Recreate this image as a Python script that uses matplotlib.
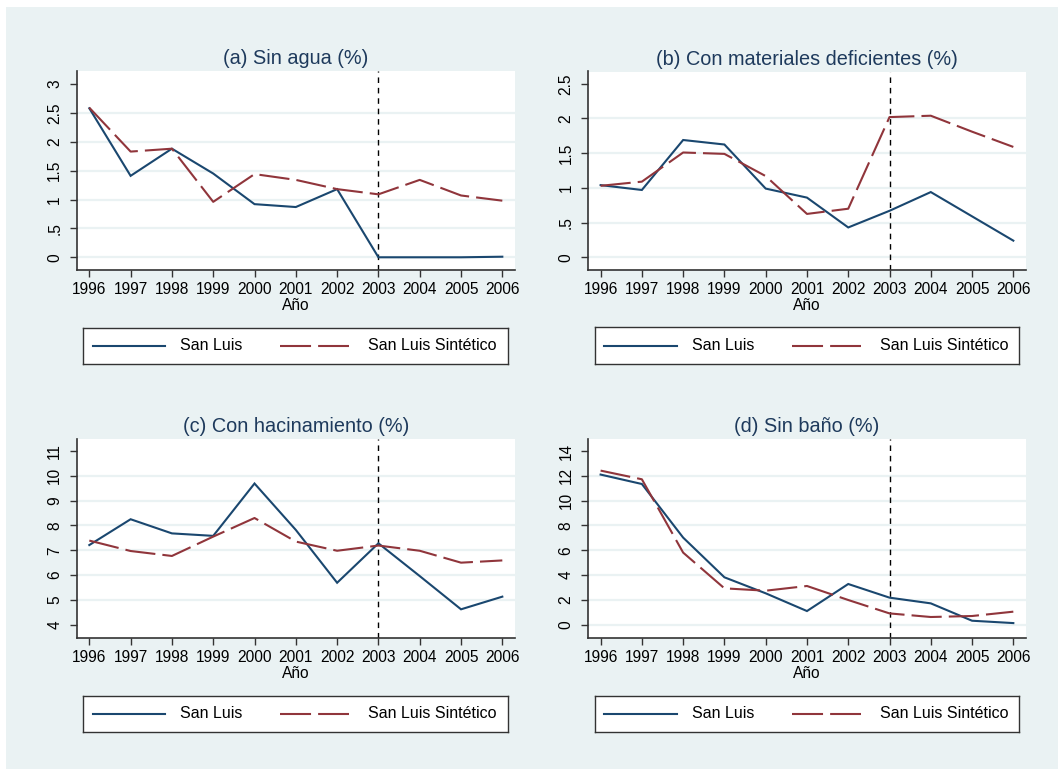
import matplotlib
matplotlib.use("Agg")
import matplotlib.pyplot as plt
import numpy as np

plt.rcParams["font.family"] = ["Liberation Sans", "DejaVu Sans"]

W, H = 1058, 769
BG = "#EAF2F3"
NAVY = "#1A476F"
MAROON = "#90353B"
TITLE_C = "#1E3A5C"

years = list(range(1996, 2007))
ticklabels = [str(y) for y in years]
treat_year = 2003

titles = ["(a) Sin agua (%)", "(b) Con materiales deficientes (%)",
          "(c) Con hacinamiento (%)", "(d) Sin baño (%)"]

sin_agua_sl = [2.58, 1.41, 1.88, 1.45, 0.92, 0.87, 1.18, 0.0, 0.0, 0.0, 0.01]
sin_agua_sint = [2.59, 1.83, 1.88, 0.96, 1.44, 1.34, 1.18, 1.09, 1.34, 1.07, 0.98]

materiales_sl = [1.04, 0.97, 1.69, 1.625, 0.99, 0.86, 0.43, 0.67, 0.94, 0.59, 0.24]
materiales_sint = [1.03, 1.09, 1.51, 1.49, 1.17, 0.625, 0.70, 2.02, 2.04, 1.81, 1.59]

hacinamiento_sl = [7.21, 8.25, 7.68, 7.58, 9.69, 7.82, 5.69, 7.28, 5.96, 4.62, 5.13]
hacinamiento_sint = [7.39, 6.97, 6.77, 7.55, 8.30, 7.35, 6.98, 7.19, 6.98, 6.50, 6.59]

sin_bano_sl = [12.1, 11.34, 7.02, 3.82, 2.53, 1.10, 3.28, 2.18, 1.72, 0.32, 0.13]
sin_bano_sint = [12.42, 11.72, 5.81, 2.93, 2.74, 3.12, 1.99, 0.91, 0.62, 0.70, 1.05]

series_sl = [sin_agua_sl, materiales_sl, hacinamiento_sl, sin_bano_sl]
series_sint = [sin_agua_sint, materiales_sint, hacinamiento_sint, sin_bano_sint]

yticks = [[0, 0.5, 1, 1.5, 2, 2.5, 3],
          [0, 0.5, 1, 1.5, 2, 2.5],
          [4, 5, 6, 7, 8, 9, 10, 11],
          [0, 2, 4, 6, 8, 10, 12, 14]]
ytick_labels = [["0", ".5", "1", "1.5", "2", "2.5", "3"],
                ["0", ".5", "1", "1.5", "2", "2.5"],
                [str(v) for v in range(4, 12)],
                [str(v) for v in range(0, 16, 2)]]
grid_vals = [[0, 0.5, 1, 1.5, 2, 2.5],
             [0, 0.5, 1, 1.5, 2],
             [5, 6, 7, 8, 9, 10],
             [0, 2, 4, 6, 8, 10, 12]]
ylims = [(-0.22, 3.225), (-0.183, 2.677), (3.476, 11.484), (-1.048, 14.967)]
xlim = (1995.702, 2006.307)

# plot regions in pixels: left, top, right, bottom
regions = [(77, 71, 515, 270), (588.3, 71.5, 1026, 270),
           (77, 439, 515, 637.7), (588.3, 439, 1026, 637.7)]
legend_boxes = [(83.3, 327.7, 507.7, 364.3), (594.7, 327, 1019.3, 364.3),
                (83.3, 695.5, 507.7, 732.3), (594.7, 695.5, 1019.3, 732.3)]


def fig_rect(l, t, r, b):
    return [l / W, 1 - b / H, (r - l) / W, (b - t) / H]


fig = plt.figure(figsize=(W / 100, H / 100), dpi=100)
fig.patch.set_facecolor("white")
bg = fig.add_axes(fig_rect(6, 7, W, H))
bg.set_facecolor(BG)
bg.set_xticks([])
bg.set_yticks([])
for s in bg.spines.values():
    s.set_visible(False)
bg.set_zorder(-10)

LW = 1.5
dash_style = (0, (14.5, 3.4))

for k in range(4):
    ax = fig.add_axes(fig_rect(*regions[k]))
    ax.set_facecolor("white")
    for g in grid_vals[k]:
        ax.axhline(g, color=BG, lw=1.6, zorder=1)
    ax.axvline(treat_year, color="black", lw=1.0, ls=(0, (4, 3.5)), zorder=2)
    ax.plot(years, series_sl[k], color=NAVY, lw=LW, zorder=3,
            solid_joinstyle="miter")
    ax.plot(years, series_sint[k], color=MAROON, lw=LW, ls=dash_style,
            zorder=3)
    ax.set_xlim(*xlim)
    ax.set_ylim(*ylims[k])
    ax.set_xticks(years)
    ax.set_xticklabels(ticklabels, fontsize=11.2)
    ax.set_yticks(yticks[k])
    ax.set_yticklabels(ytick_labels[k], fontsize=11.2, rotation=90, va="center")
    ax.tick_params(axis="both", length=5.2, width=1.0, color="#333333",
                   direction="out")
    ax.tick_params(axis="x", pad=3.5)
    ax.tick_params(axis="y", pad=5.5)
    for side in ("top", "right"):
        ax.spines[side].set_visible(False)
    for side in ("left", "bottom"):
        ax.spines[side].set_color("#333333")
        ax.spines[side].set_linewidth(1.2)
    ax.set_xlabel("Año", fontsize=11.2, labelpad=1)
    ax.set_title(titles[k], fontsize=14.3, color=TITLE_C, pad=5)

    # legend box
    lax = fig.add_axes(fig_rect(*legend_boxes[k]))
    lax.set_xlim(0, 1)
    lax.set_ylim(0, 1)
    lax.set_facecolor("white")
    lax.set_xticks([])
    lax.set_yticks([])
    for s in lax.spines.values():
        s.set_color("#333333")
        s.set_linewidth(1.0)
    lw_px = legend_boxes[k][2] - legend_boxes[k][0]
    lax.plot([9.4 / lw_px, 82 / lw_px], [0.5, 0.5], color=NAVY, lw=LW)
    lax.text(97 / lw_px, 0.5, "San Luis", fontsize=11.5, va="center", ha="left")
    lax.plot([197 / lw_px, 266 / lw_px], [0.5, 0.5], color=MAROON, lw=LW,
             ls=(0, (14.9, 3.4)))
    lax.text(285 / lw_px, 0.5, "San Luis Sintético", fontsize=11.5,
             va="center", ha="left")

fig.savefig("out.png", dpi=100, facecolor=fig.get_facecolor())
